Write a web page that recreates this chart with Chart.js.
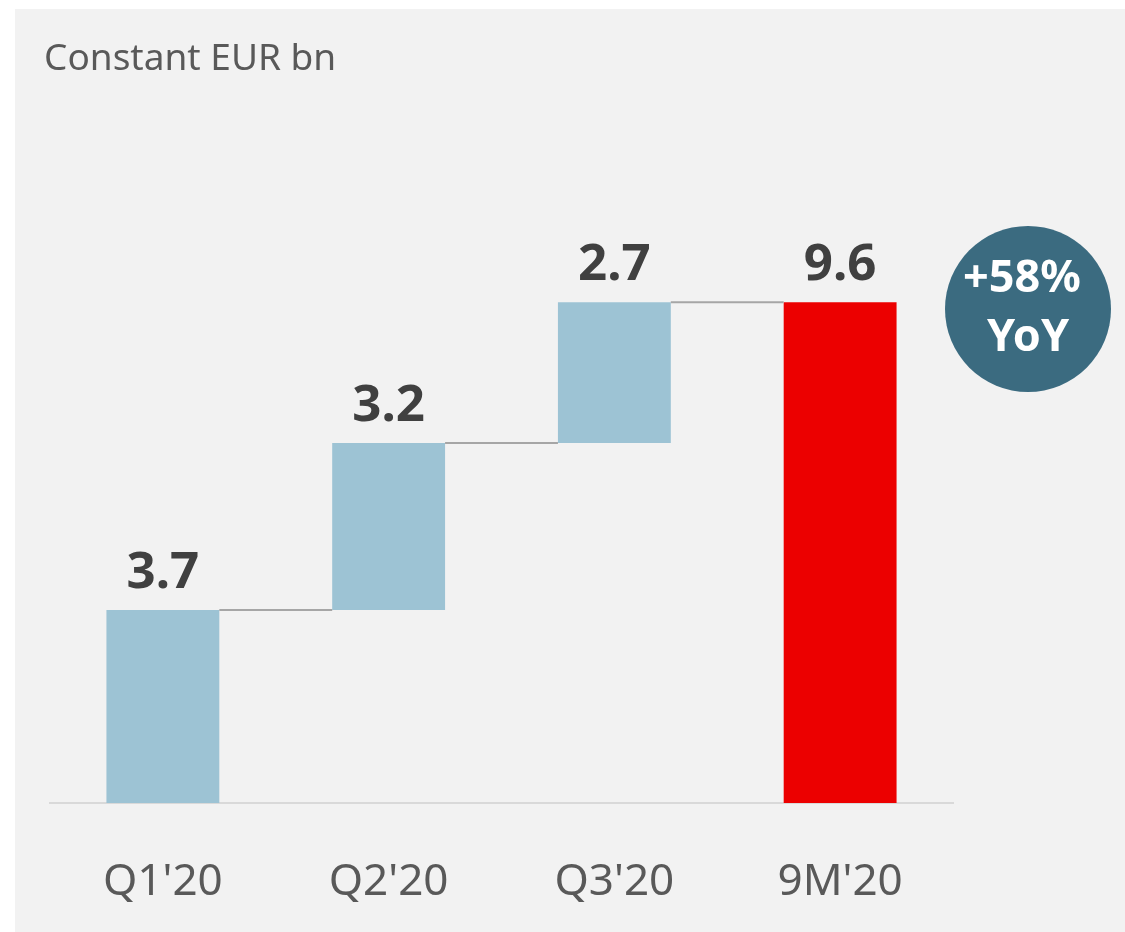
<!DOCTYPE html>
<html>
<head>
<meta charset="utf-8">
<script src="https://cdn.jsdelivr.net/npm/chart.js@4"></script>
<style>
  body { margin: 0; background: #ffffff; }
  #panel { position: absolute; left: 15px; top: 9px; width: 1110px; height: 923px; background: #f2f2f2; }
  #chart { position: absolute; left: 0; top: 0; }
</style>
</head>
<body>
<div id="panel"></div>
<canvas id="chart" width="1125" height="932"></canvas>
<script>
// values
var categories = ["Q1'20", "Q2'20", "Q3'20", "9M'20"];
var steps = [3.7, 3.2, 2.7, 9.6];
var isTotal = [false, false, false, true];
var unitLabel = "Constant EUR bn";
var badgeLines = ["+58%", "YoY"];

// build floating bars for the waterfall
var ranges = [];
var running = 0;
for (var i = 0; i < steps.length; i++) {
    if (isTotal[i]) {
        ranges.push([0, steps[i]]);
    } else {
        ranges.push([running, running + steps[i]]);
        running += steps[i];
    }
}

var FONT = "'Noto Sans', sans-serif";

var extras = {
    id: 'extras',
    afterDatasetsDraw: function(chart) {
        var ctx = chart.ctx;
        var meta = chart.getDatasetMeta(0);
        var y = chart.scales.y;
        ctx.save();

        // connectors between bars
        ctx.strokeStyle = '#a6a6a6';
        ctx.lineWidth = 2;
        for (var i = 0; i < meta.data.length - 1; i++) {
            var a = meta.data[i], b = meta.data[i + 1];
            var top = y.getPixelForValue(ranges[i][1]);
            ctx.beginPath();
            ctx.moveTo(a.x + a.width / 2, top);
            ctx.lineTo(b.x - b.width / 2, top);
            ctx.stroke();
        }

        // value labels
        ctx.fillStyle = '#404040';
        ctx.font = 'bold 51px ' + FONT;
        ctx.textAlign = 'center';
        ctx.textBaseline = 'alphabetic';
        meta.data.forEach(function(bar, i) {
            var top = y.getPixelForValue(ranges[i][1]);
            ctx.fillText(steps[i].toFixed(1), bar.x, top - 22);
        });

        // unit label
        ctx.fillStyle = '#595959';
        ctx.font = '37px ' + FONT;
        ctx.textAlign = 'left';
        ctx.textBaseline = 'middle';
        ctx.fillText(unitLabel, 44, 59);

        // yoy badge
        ctx.fillStyle = '#3b6b80';
        ctx.beginPath();
        ctx.arc(1028, 309, 83, 0, Math.PI * 2);
        ctx.fill();
        ctx.fillStyle = '#ffffff';
        ctx.font = 'bold 45px ' + FONT;
        ctx.textAlign = 'center';
        ctx.fillText(badgeLines[0], 1022, 279);
        ctx.fillText(badgeLines[1], 1028, 338);

        ctx.restore();
    }
};

new Chart(document.getElementById('chart'), {
    type: 'bar',
    data: {
        labels: categories,
        datasets: [{
            data: ranges,
            backgroundColor: isTotal.map(function(t) { return t ? '#ec0000' : '#9dc3d4'; }),
            borderWidth: 0,
            barPercentage: 0.5,
            categoryPercentage: 1.0
        }]
    },
    options: {
        responsive: false,
        animation: false,
        layout: { padding: { left: 50, right: 172, top: 177, bottom: 0 } },
        plugins: { legend: { display: false }, tooltip: { enabled: false } },
        scales: {
            x: {
                grid: { display: false },
                border: { display: true, color: '#d9d9d9', width: 2 },
                ticks: { color: '#595959', font: { family: FONT, size: 44 }, padding: 45 },
                afterFit: function(scale) { scale.height = 129; }
            },
            y: {
                display: false,
                min: 0,
                max: 12
            }
        }
    },
    plugins: [extras]
});
</script>
</body>
</html>
